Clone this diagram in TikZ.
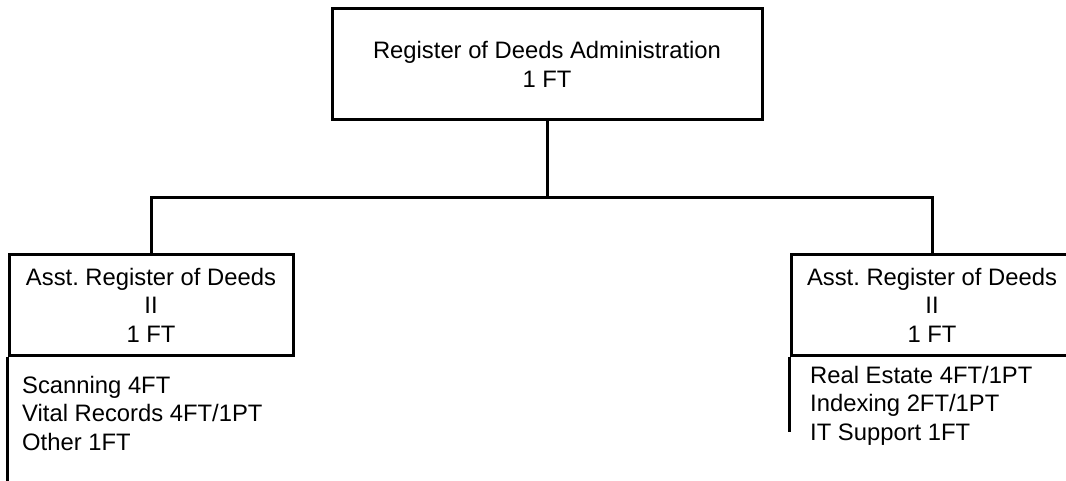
\documentclass[tikz,border=0pt]{standalone}
\usepackage{fontspec}
\setmainfont{Liberation Sans}
\frenchspacing
\begin{document}
\begin{tikzpicture}[x=1pt,y=-1pt,
  every node/.style={font=\fontsize{23.8}{28.5}\selectfont},
  orgbox/.style={draw,line width=3pt,align=center,inner sep=0pt},
  listtext/.style={align=left,inner sep=0pt,anchor=north west},
  conn/.style={line width=3pt}]
\useasboundingbox (0,0) rectangle (1066,481);
\node[orgbox,minimum width=430,minimum height=111] (top) at (547,64.5) {Register of Deeds Administration\\1 FT};
\node[orgbox,minimum width=284,minimum height=100] (l) at (151,305) {Asst. Register of Deeds\\II\\1 FT};
\node[orgbox,minimum width=282,minimum height=100] (r) at (932,305) {Asst. Register of Deeds\\II\\1 FT};
\coordinate (bus) at (151,198);
\draw[conn] (top.south) -- (top.south |- bus);
\draw[conn] (l.north) -- (bus) -| (r.north);
\coordinate (lend) at (9,490);
\coordinate (rend) at (791,432);
\draw[conn] (l.south west) -- (l.south west |- lend);
\draw[conn] (r.south west) -- (r.south west |- rend);
\node[listtext] (llist) at (22,376) {Scanning 4FT\\Vital Records 4FT/1PT\\Other 1FT};
\node[listtext] (rlist) at (810,366) {Real Estate 4FT/1PT\\Indexing 2FT/1PT\\IT Support 1FT};
\end{tikzpicture}
\end{document}
